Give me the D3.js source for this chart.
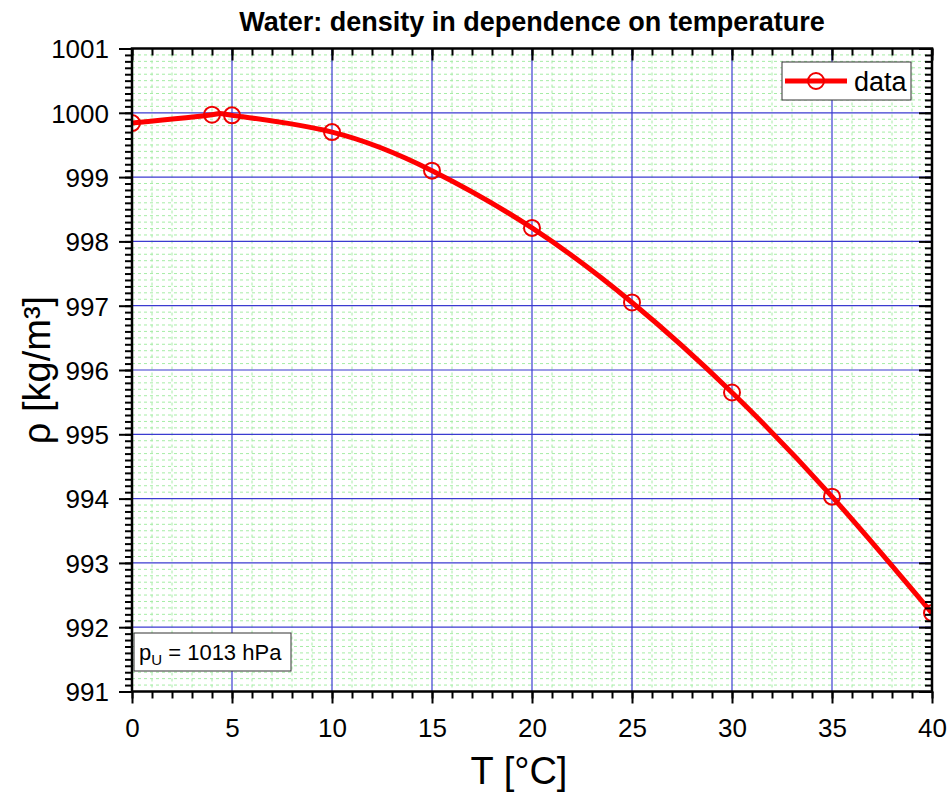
<!DOCTYPE html>
<meta charset="utf-8">
<style>
body { margin: 0; background: #fff; }
svg { font-family: "Liberation Sans", Arial, sans-serif; }
.grid-minor line { stroke: #a6eca6; stroke-width: 1; stroke-dasharray: 3,3; }
.grid-major line { stroke: #3b3bd0; stroke-width: 1.2; }
.axis path, .axis line { stroke: #000; stroke-width: 2; }
.axis text { font-size: 26px; fill: #000; font-family: "Liberation Sans", Arial, sans-serif; }
.line { fill: none; stroke: #f00; stroke-width: 5px; }
.dot { fill: none; stroke: #e00; stroke-width: 2px; }
</style>
<svg width="950" height="796"></svg>
<script src="https://d3js.org/d3.v7.min.js"></script>
<script>

// temperature in °C, density in kg/m³
var temps = [0, 4, 5, 10, 15, 20, 25, 30, 35, 40];
var density = [999.84, 999.97, 999.96, 999.70, 999.10, 998.21, 997.05, 995.65, 994.03, 992.22];
var xTicks = [0, 5, 10, 15, 20, 25, 30, 35, 40];
var yTicks = [991, 992, 993, 994, 995, 996, 997, 998, 999, 1000, 1001];

var data = temps.map(function(t, i) { return {t: t, rho: density[i]}; });

var svg = d3.select("svg"),
    margin = {top: 48.5, right: 18, bottom: 104.5, left: 132},
    width = 950 - margin.left - margin.right,
    height = 796 - margin.top - margin.bottom,
    g = svg.append("g").attr("transform", "translate(" + margin.left + "," + margin.top + ")");

var x = d3.scaleLinear().domain([0, 40]).range([0, width]);
var y = d3.scaleLinear().domain([991, 1001]).range([height, 0]);

var xMinor = d3.range(0, 41, 1);
var yMinor = d3.range(0, 101).map(function(i) { return 991 + i / 10; });

// grids
g.append("g").attr("class", "grid-minor")
  .selectAll("line").data(xMinor.filter(function(d) { return d % 5; }))
  .enter().append("line")
    .attr("x1", x).attr("x2", x).attr("y1", 0).attr("y2", height);
g.append("g").attr("class", "grid-minor")
  .selectAll("line").data(yMinor.filter(function(d, i) { return i % 10; }))
  .enter().append("line")
    .attr("y1", y).attr("y2", y).attr("x1", 0).attr("x2", width);
g.append("g").attr("class", "grid-major")
  .selectAll("line").data(xTicks.slice(1, -1))
  .enter().append("line")
    .attr("x1", x).attr("x2", x).attr("y1", 0).attr("y2", height);
g.append("g").attr("class", "grid-major")
  .selectAll("line").data(yTicks.slice(1, -1))
  .enter().append("line")
    .attr("y1", y).attr("y2", y).attr("x1", 0).attr("x2", width);

// data line and markers, clipped to plot area
svg.append("clipPath").attr("id", "clip")
  .append("rect").attr("width", width).attr("height", height);

var line = d3.line()
    .curve(d3.curveNatural)
    .x(function(d) { return x(d.t); })
    .y(function(d) { return y(d.rho); });

var plot = g.append("g").attr("clip-path", "url(#clip)");
plot.append("path").datum(data).attr("class", "line").attr("d", line);
plot.selectAll(".dot").data(data).enter().append("circle")
    .attr("class", "dot")
    .attr("cx", function(d) { return x(d.t); })
    .attr("cy", function(d) { return y(d.rho); })
    .attr("r", 8);

// axes: minor ticks, then major ticks with labels
function minorX(sel, axis) { sel.call(axis.tickValues(xMinor).tickSize(7).tickFormat("")); }
function minorY(sel, axis) { sel.call(axis.tickValues(yMinor).tickSize(7).tickFormat("")); }

g.append("g").attr("class", "axis").attr("transform", "translate(0," + height + ")")
  .call(minorX, d3.axisBottom(x));
g.append("g").attr("class", "axis").attr("transform", "translate(0," + height + ")")
  .call(d3.axisBottom(x).tickValues(xTicks).tickSize(12).tickPadding(7).tickFormat(d3.format("d")))
  .selectAll("text").attr("dy", "1em");

g.append("g").attr("class", "axis").call(minorY, d3.axisLeft(y));
g.append("g").attr("class", "axis")
  .call(d3.axisLeft(y).tickValues(yTicks).tickSize(13).tickPadding(10).tickFormat(d3.format("d")))
  .selectAll("text").attr("dy", "0.36em");

// top and right axes, ticks pointing inward
g.append("g").attr("class", "axis").call(minorX, d3.axisBottom(x));
g.append("g").attr("class", "axis")
  .call(d3.axisBottom(x).tickValues(xTicks).tickSize(12).tickFormat(""));
g.append("g").attr("class", "axis").attr("transform", "translate(" + width + ",0)")
  .call(minorY, d3.axisLeft(y));
g.append("g").attr("class", "axis").attr("transform", "translate(" + width + ",0)")
  .call(d3.axisLeft(y).tickValues(yTicks).tickSize(13).tickFormat(""));
g.selectAll(".axis .domain").remove();

g.append("rect")
    .attr("width", width).attr("height", height)
    .attr("fill", "none").attr("stroke", "#000").attr("stroke-width", 2.5);

// title and axis labels
svg.append("text")
    .attr("x", 532).attr("y", 31)
    .attr("text-anchor", "middle")
    .style("font-size", "27px").style("font-weight", "bold")
    .text("Water: density in dependence on temperature");

svg.append("text")
    .attr("x", 519).attr("y", 784)
    .attr("text-anchor", "middle")
    .style("font-size", "38px")
    .text("T [°C]");

svg.append("text")
    .attr("transform", "translate(50,370) rotate(-90)")
    .attr("text-anchor", "middle")
    .style("font-size", "38px")
    .text("ρ [kg/m³]");

// legend
var leg = svg.append("g").attr("transform", "translate(782,62)");
leg.append("rect").attr("width", 129).attr("height", 38)
    .attr("fill", "#fff").attr("stroke", "#333").attr("stroke-width", 1);
leg.append("line").attr("x1", 3).attr("x2", 65).attr("y1", 19).attr("y2", 19)
    .attr("stroke", "#f00").attr("stroke-width", 5);
leg.append("circle").attr("cx", 34).attr("cy", 19).attr("r", 8)
    .attr("class", "dot");
leg.append("text").attr("x", 72).attr("y", 29)
    .style("font-size", "27px").text("data");

// pressure note
var note = svg.append("g").attr("transform", "translate(134,633)");
note.append("rect").attr("width", 157).attr("height", 38)
    .attr("fill", "#fff").attr("stroke", "#333").attr("stroke-width", 1);
var nt = note.append("text").attr("x", 5).attr("y", 27).style("font-size", "22px");
nt.append("tspan").text("p");
nt.append("tspan").attr("dy", 5).style("font-size", "15px").text("U");
nt.append("tspan").attr("dy", -5).text(" = 1013 hPa");

</script>
